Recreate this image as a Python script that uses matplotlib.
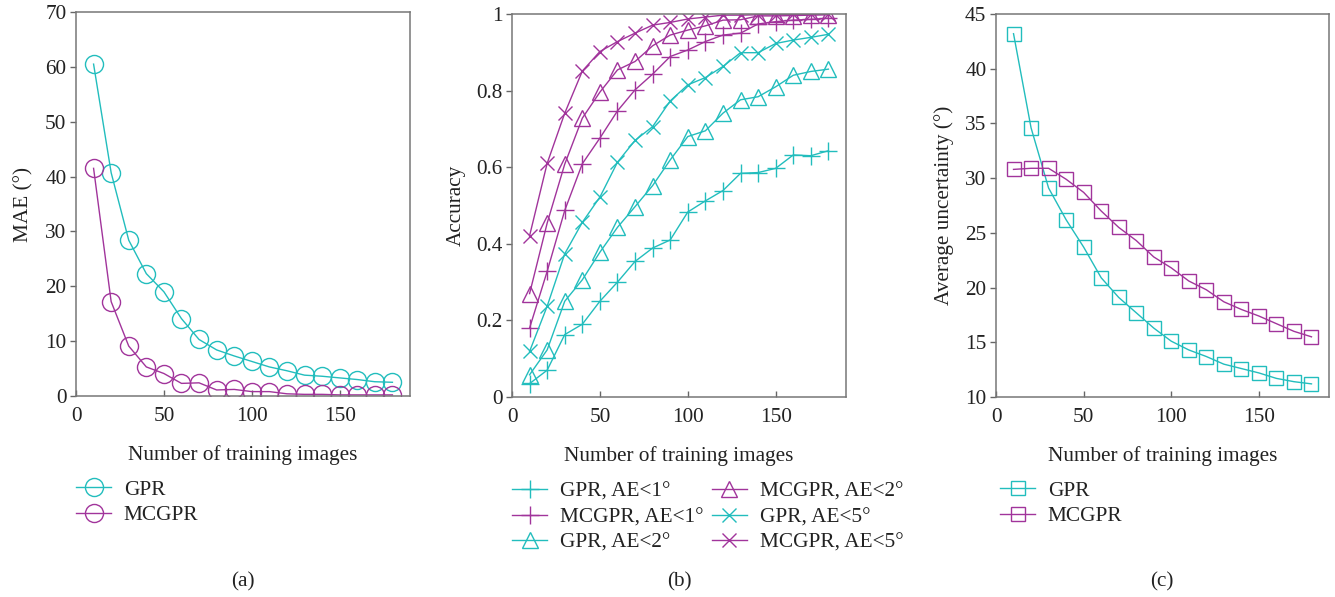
import matplotlib
matplotlib.use("Agg")
import matplotlib.pyplot as plt

plt.rcParams['font.family'] = ['Liberation Serif', 'DejaVu Serif']
plt.rcParams['text.color'] = '#222222'
plt.rcParams['axes.labelcolor'] = '#222222'
plt.rcParams['xtick.color'] = '#666666'
plt.rcParams['ytick.color'] = '#666666'
plt.rcParams['xtick.labelcolor'] = '#222222'
plt.rcParams['ytick.labelcolor'] = '#222222'

CYAN = '#22bdbd'
MAG = '#a1349b'
FS = 15.3

n_images = [10, 20, 30, 40, 50, 60, 70, 80, 90, 100, 110, 120, 130, 140, 150, 160, 170, 180]

# (a) MAE
mae_gpr = [60.5, 40.7, 28.4, 22.3, 19.0, 14.1, 10.3, 8.4, 7.3, 6.3, 5.3, 4.6, 3.8, 3.6, 3.3, 3.0, 2.6, 2.5]
mae_mcgpr = [41.5, 17.2, 9.1, 5.3, 4.1, 2.3, 2.4, 1.1, 1.2, 0.8, 0.8, 0.4, 0.3, 0.3, 0.2, 0.2, 0.2, 0.2]

# (b) accuracy
acc_gpr_1 = [0.035, 0.07, 0.163, 0.19, 0.25, 0.30, 0.354, 0.389, 0.41, 0.483, 0.512, 0.539, 0.584, 0.586, 0.597, 0.632, 0.630, 0.643]
acc_mcgpr_1 = [0.18, 0.328, 0.487, 0.609, 0.676, 0.747, 0.802, 0.843, 0.889, 0.906, 0.928, 0.945, 0.95, 0.974, 0.98, 0.984, 0.986, 0.989]
acc_gpr_2 = [0.058, 0.123, 0.25, 0.306, 0.378, 0.443, 0.497, 0.552, 0.619, 0.68, 0.695, 0.741, 0.776, 0.784, 0.81, 0.84, 0.85, 0.856]
acc_mcgpr_2 = [0.27, 0.454, 0.608, 0.728, 0.796, 0.854, 0.876, 0.917, 0.945, 0.958, 0.969, 0.984, 0.985, 0.995, 0.995, 0.996, 0.997, 0.998]
acc_gpr_5 = [0.119, 0.237, 0.374, 0.456, 0.522, 0.613, 0.67, 0.706, 0.773, 0.815, 0.834, 0.863, 0.899, 0.899, 0.923, 0.932, 0.939, 0.947]
acc_mcgpr_5 = [0.421, 0.61, 0.741, 0.851, 0.902, 0.928, 0.95, 0.971, 0.978, 0.987, 0.992, 0.997, 0.997, 0.998, 0.998, 0.999, 0.999, 0.999]

# (c) average uncertainty
unc_gpr = [43.2, 34.6, 29.1, 26.2, 23.7, 20.9, 19.1, 17.7, 16.3, 15.1, 14.3, 13.7, 13.0, 12.6, 12.2, 11.7, 11.4, 11.2]
unc_mcgpr = [30.8, 30.9, 30.9, 29.9, 28.7, 27.0, 25.5, 24.3, 22.8, 21.8, 20.6, 19.8, 18.7, 18.0, 17.4, 16.7, 16.0, 15.5]

W, H = 1335, 597
fig = plt.figure(figsize=(W / 100, H / 100), dpi=100)


def make_axes(l, r, t, b):
    ax = fig.add_axes([l / W, 1 - b / H, (r - l) / W, (b - t) / H])
    for s in ax.spines.values():
        s.set_color('#777777')
        s.set_linewidth(1.1)
    ax.tick_params(axis='y', direction='out', length=4, width=1, labelsize=FS, pad=3)
    ax.tick_params(axis='x', direction='in', length=4, width=1, labelsize=FS, pad=8)
    ax.set_xlim(0, 190)
    ax.set_xticks([0, 50, 100, 150])
    ax.set_xlabel("Number of training images", fontsize=FS, labelpad=14)
    return ax


def legend(ax, x, y, ncol=1):
    ax.legend(loc='upper left', bbox_to_anchor=(x / W, 1 - y / H), bbox_transform=fig.transFigure,
              frameon=False, fontsize=FS, ncol=ncol, handlelength=1.65, handletextpad=0.6,
              labelspacing=0.25, columnspacing=0.4, markerscale=1.0, borderaxespad=0, borderpad=0)


lw = 1.0
mew = 1.0

# (a)
ax = make_axes(76, 410, 12, 396)
ax.plot(n_images, mae_gpr, color=CYAN, lw=lw, marker='o', ms=13, mfc='none', mew=mew, label='GPR')
ax.plot(n_images, mae_mcgpr, color=MAG, lw=lw, marker='o', ms=13, mfc='none', mew=mew, label='MCGPR')
ax.set_ylim(0, 70)
ax.set_yticks(range(0, 71, 10))
ax.set_ylabel("MAE (°)", fontsize=FS, labelpad=8)
legend(ax, 76, 480)
fig.text(243 / W, 1 - 582 / H, "(a)", ha='center', va='center', fontsize=FS)

# (b)
ax = make_axes(512, 846, 14, 397)
ax.plot(n_images, acc_gpr_1, color=CYAN, lw=lw, marker='+', ms=13, mew=mew, label='GPR, AE<1°')
ax.plot(n_images, acc_mcgpr_1, color=MAG, lw=lw, marker='+', ms=13, mew=mew, label='MCGPR, AE<1°')
ax.plot(n_images, acc_gpr_2, color=CYAN, lw=lw, marker='^', ms=12, mfc='none', mew=mew, label='GPR, AE<2°')
ax.plot(n_images, acc_mcgpr_2, color=MAG, lw=lw, marker='^', ms=12, mfc='none', mew=mew, label='MCGPR, AE<2°')
ax.plot(n_images, acc_gpr_5, color=CYAN, lw=lw, marker='x', ms=10, mew=mew, label='GPR, AE<5°')
ax.plot(n_images, acc_mcgpr_5, color=MAG, lw=lw, marker='x', ms=10, mew=mew, label='MCGPR, AE<5°')
ax.set_ylim(0, 1)
ax.set_yticks([0, 0.2, 0.4, 0.6, 0.8, 1])
ax.set_yticklabels(["0", "0.2", "0.4", "0.6", "0.8", "1"])
ax.set_ylabel("Accuracy", fontsize=FS, labelpad=7)
legend(ax, 512, 482, ncol=2)
fig.text(679 / W, 1 - 582 / H, "(b)", ha='center', va='center', fontsize=FS)

# (c)
ax = make_axes(996, 1329, 14, 397)
ax.plot(n_images, unc_gpr, color=CYAN, lw=lw, marker='s', ms=10, mfc='none', mew=mew, label='GPR')
ax.plot(n_images, unc_mcgpr, color=MAG, lw=lw, marker='s', ms=10, mfc='none', mew=mew, label='MCGPR')
ax.set_ylim(10, 45)
ax.set_yticks(range(10, 46, 5))
ax.set_ylabel("Average uncertainty (°)", fontsize=FS, labelpad=8)
legend(ax, 1000, 481)
fig.text(1162 / W, 1 - 582 / H, "(c)", ha='center', va='center', fontsize=FS)

fig.savefig("out.png", dpi=100)
